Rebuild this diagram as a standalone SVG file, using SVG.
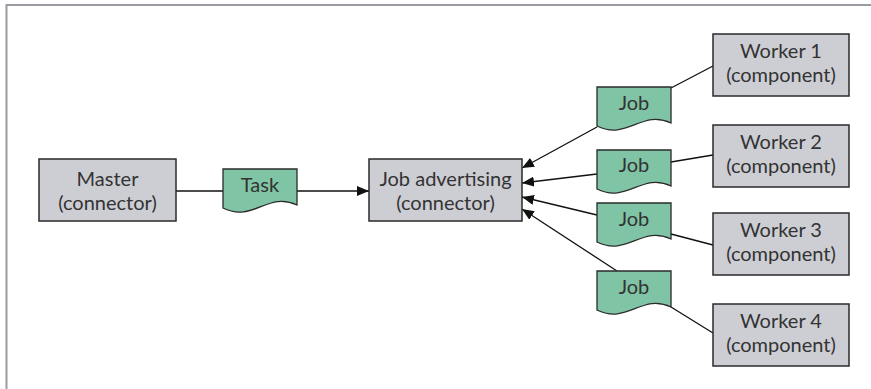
<svg xmlns="http://www.w3.org/2000/svg" width="871" height="389" viewBox="0 0 871 389">
<style>
.box{fill:#CDCED4;stroke:#2a2a2a;stroke-width:1.5}
.doc{fill:#80C4A6;stroke:#2a2a2a;stroke-width:1.3}
.t{font-family:Lato,"Open Sans","Liberation Sans",sans-serif;font-size:20px;fill:#333;text-anchor:middle}
.ln{stroke:#111;stroke-width:1.3;fill:none}
</style>
<defs>
<marker id="ah" viewBox="0 0 12 10" refX="12" refY="5" markerWidth="12" markerHeight="10" markerUnits="userSpaceOnUse" orient="auto">
<path d="M0,0 L12,5 L0,10 Z" fill="#111"/>
</marker>
<path id="docshape" d="M0,0 H74 V36 C45,22 30,54 0,39 Z"/>
</defs>
<rect width="871" height="389" fill="#fff"/>
<path d="M6.5,389 V5 H871" fill="none" stroke="#9a9ca3" stroke-width="2"/>
<g id="connectors">
<line class="ln" x1="176" y1="191" x2="223" y2="191"/>
<line class="ln" x1="297" y1="191" x2="369" y2="191" marker-end="url(#ah)"/>
<line class="ln" x1="597" y1="127" x2="522" y2="168" marker-end="url(#ah)"/>
<line class="ln" x1="713" y1="66" x2="671" y2="88"/>
<line class="ln" x1="597" y1="174" x2="522" y2="183" marker-end="url(#ah)"/>
<line class="ln" x1="713" y1="155" x2="671" y2="162"/>
<line class="ln" x1="597" y1="215" x2="522" y2="197" marker-end="url(#ah)"/>
<line class="ln" x1="713" y1="245" x2="671" y2="234"/>
<line class="ln" x1="617" y1="271" x2="522" y2="209" marker-end="url(#ah)"/>
<line class="ln" x1="713" y1="333" x2="671" y2="307"/>
</g>
<g id="master">
<rect class="box" x="39" y="159" width="137" height="62"/>
<text class="t" x="107.5" y="186">Master</text>
<text class="t" x="107.5" y="210">(connector)</text>
</g>
<g id="task">
<use href="#docshape" class="doc" x="223" y="169"/>
<text class="t" x="260" y="192">Task</text>
</g>
<g id="jobadvertising">
<rect class="box" x="369" y="159" width="153" height="62"/>
<text class="t" x="445.5" y="186">Job advertising</text>
<text class="t" x="445.5" y="210">(connector)</text>
</g>
<g id="job1">
<use href="#docshape" class="doc" x="597" y="87"/>
<text class="t" x="634" y="110">Job</text>
</g>
<g id="job2">
<use href="#docshape" class="doc" x="597" y="150"/>
<text class="t" x="634" y="172">Job</text>
</g>
<g id="job3">
<use href="#docshape" class="doc" x="597" y="203"/>
<text class="t" x="634" y="226">Job</text>
</g>
<g id="job4">
<use href="#docshape" class="doc" x="597" y="271"/>
<text class="t" x="634" y="294">Job</text>
</g>
<g id="worker1">
<rect class="box" x="713" y="34" width="136" height="62"/>
<text class="t" x="781" y="58">Worker 1</text>
<text class="t" x="781" y="82">(component)</text>
</g>
<g id="worker2">
<rect class="box" x="713" y="125" width="136" height="62"/>
<text class="t" x="781" y="149">Worker 2</text>
<text class="t" x="781" y="173">(component)</text>
</g>
<g id="worker3">
<rect class="box" x="713" y="213" width="136" height="62"/>
<text class="t" x="781" y="237">Worker 3</text>
<text class="t" x="781" y="261">(component)</text>
</g>
<g id="worker4">
<rect class="box" x="713" y="304" width="136" height="62"/>
<text class="t" x="781" y="328">Worker 4</text>
<text class="t" x="781" y="352">(component)</text>
</g>
</svg>
